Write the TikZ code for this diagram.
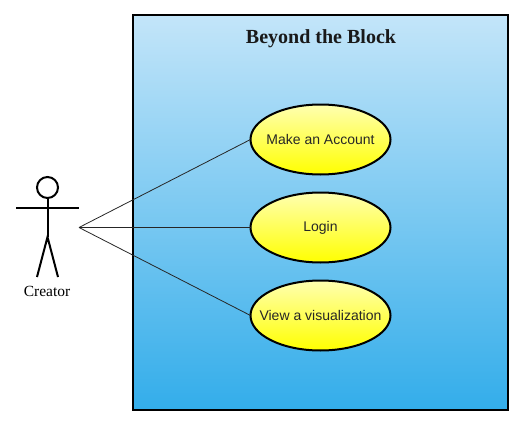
\documentclass[tikz,border=0pt]{standalone}
\usepackage{fontspec}
\setmainfont{Liberation Serif}
\newfontfamily\labelfont{Liberation Sans}
\usetikzlibrary{positioning,shapes.geometric}
\definecolor{boxtop}{HTML}{C3E5F9}
\definecolor{boxbottom}{HTML}{33ADEA}
\definecolor{casetop}{HTML}{FFFFB0}
\begin{document}
\begin{tikzpicture}[
    x=1pt, y=-1pt,
    usecase/.style={ellipse, draw, line width=2pt, inner xsep=-20pt, inner ysep=0pt, outer sep=0pt,
        minimum width=140pt, minimum height=70pt, top color=casetop, bottom color=yellow,
        font=\labelfont\fontsize{14}{16}\selectfont, text=black!85},
    body/.style={line width=2pt},
    link/.style={line width=0.8pt, draw=black!85}
]
\useasboundingbox (0,0) rectangle (528,431);

% System boundary
\node[rectangle, draw, line width=2pt, inner sep=0pt, outer sep=0pt, minimum width=375pt, minimum height=395pt,
    top color=boxtop, bottom color=boxbottom] (system) at (320.5,212.5) {};
\node[font=\bfseries\fontsize{20}{22}\selectfont, text=black!90] (title) at (321,39) {Beyond the Block};

% Use cases
\node[usecase] (account) at (320.5,139.5) {Make an Account};
\node[usecase] (login) at (320.5,227.5) {Login};
\node[usecase] (view) at (320.5,315.5) {View a visualization};

% Actor
\node[circle, draw, line width=2pt, inner sep=0pt, outer sep=0pt, minimum size=21pt] (head) at (47.5,187.5) {};
\coordinate (armL) at (16,207.5);
\coordinate (armR) at (79,207.5);
\coordinate (hip) at (47.5,237);
\coordinate (footL) at (37,277);
\coordinate (footR) at (58,277);
\draw[body] (armL) -- (armR);
\draw[body] (head) -- (hip);
\draw[body] (footL) -- (hip) -- (footR);
\node[font=\fontsize{15.5}{17}\selectfont] (creator) at (47,291) {Creator};

% Connectors
\coordinate (hub) at (79,227.5);
\draw[link] (hub) -- (account.west);
\draw[link] (hub) -- (login.west);
\draw[link] (hub) -- (view.west);
\end{tikzpicture}
\end{document}
